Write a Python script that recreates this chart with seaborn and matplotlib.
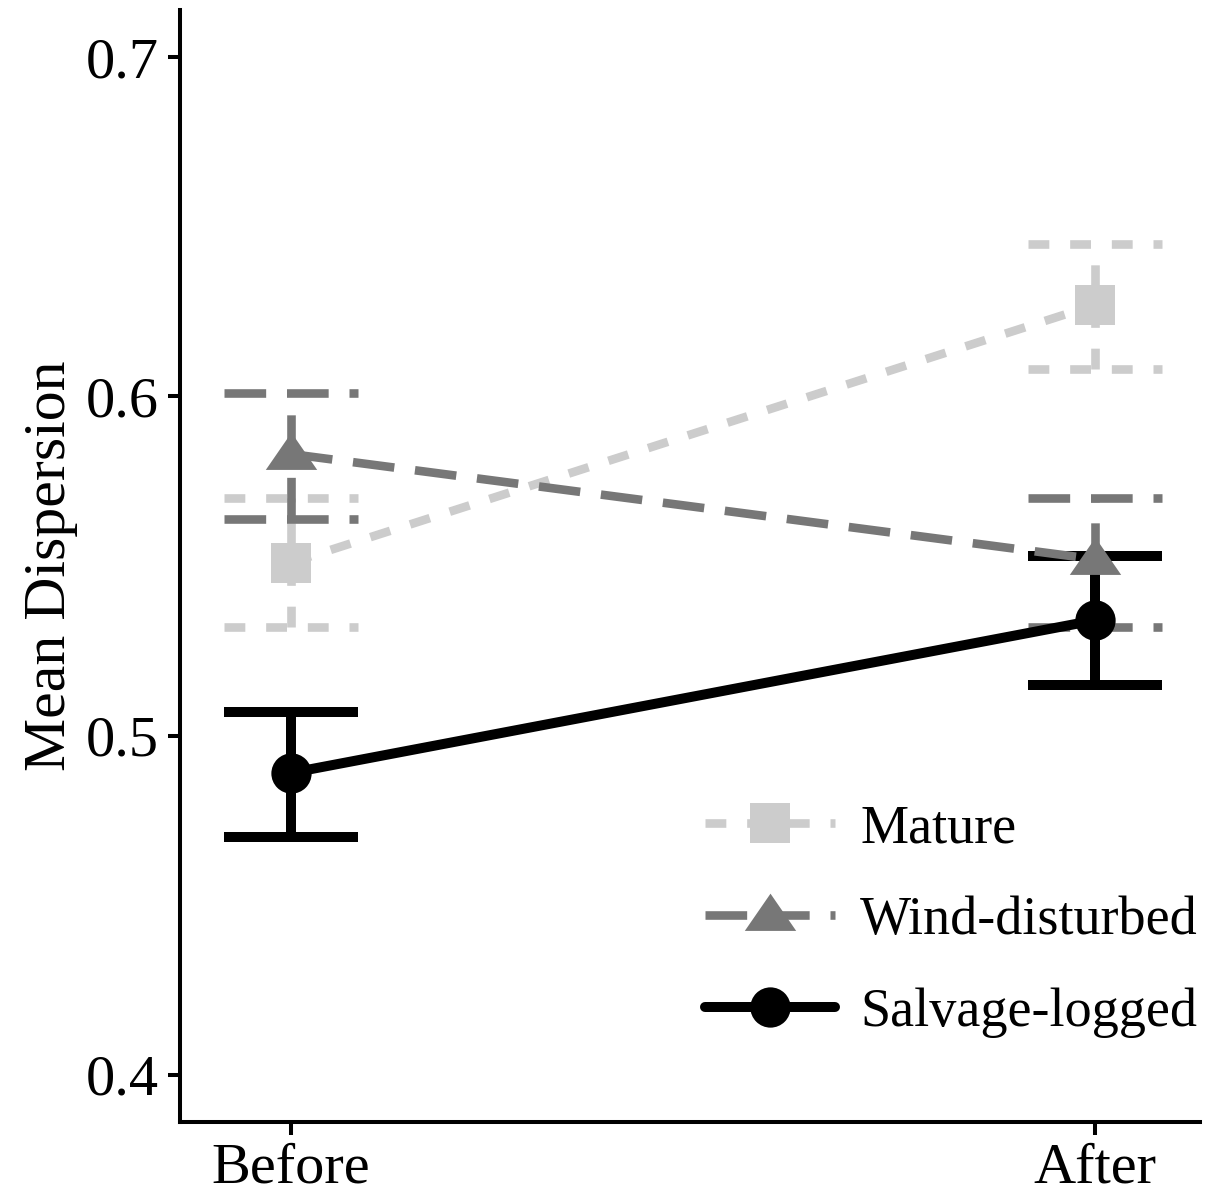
import matplotlib
matplotlib.use("Agg")
import matplotlib.pyplot as plt
from matplotlib.lines import Line2D
import numpy as np
import pandas as pd
import seaborn as sns

# Data: mean dispersion with error bar limits
periods = ["Before", "After"]
sites = ["Mature", "Wind-disturbed", "Salvage-logged"]
mature_mean = [0.551, 0.627]
mature_lo = [0.532, 0.608]
mature_hi = [0.570, 0.645]
wind_mean = [0.583, 0.552]
wind_lo = [0.564, 0.532]
wind_hi = [0.601, 0.570]
salvage_mean = [0.489, 0.534]
salvage_lo = [0.470, 0.515]
salvage_hi = [0.507, 0.553]
yticks = [0.4, 0.5, 0.6, 0.7]

sns.set_theme(style="ticks")
plt.rcParams["font.family"] = ["Liberation Serif", "DejaVu Serif"]
plt.rcParams["lines.scale_dashes"] = False
plt.rcParams["text.color"] = "black"
plt.rcParams["axes.labelcolor"] = "black"

df = pd.DataFrame({
    "x": list(range(len(periods))) * 3,
    "mean": mature_mean + wind_mean + salvage_mean,
    "lo": mature_lo + wind_lo + salvage_lo,
    "hi": mature_hi + wind_hi + salvage_hi,
    "site": np.repeat(sites, len(periods)),
})

colors = {"Mature": "#cccccc", "Wind-disturbed": "#777777", "Salvage-logged": "#000000"}
dashes = {"Mature": (15, 15), "Wind-disturbed": (30, 15), "Salvage-logged": ""}
tri = [(-1, -0.6), (1, -0.6), (0, 0.85)]
markers = {"Mature": "s", "Wind-disturbed": tri, "Salvage-logged": "o"}
msize = {"Mature": 29, "Wind-disturbed": 37, "Salvage-logged": 29}
lw = {"Mature": 6.2, "Wind-disturbed": 6.2, "Salvage-logged": 7.2}

fig = plt.figure(figsize=(12.28, 11.97), dpi=100)
ax = fig.add_axes([0.1466, 0.0627, 0.8304, 0.9289])

cap = 0.083
for site in sites:
    d = df[df["site"] == site]
    ls = (0, dashes[site]) if dashes[site] else "solid"
    ax.vlines(d["x"], d["lo"], d["hi"], colors=colors[site], linewidth=lw[site],
              linestyles=[ls], zorder=2)
    for col in ["lo", "hi"]:
        ax.hlines(d[col], d["x"] - cap, d["x"] + cap, colors=colors[site],
                  linewidth=lw[site], linestyles=[ls], zorder=2)

for site in sites:
    d = df[df["site"] == site]
    sns.lineplot(data=d, x="x", y="mean", color=colors[site], linewidth=lw[site],
                 marker=markers[site], markersize=msize[site], markeredgewidth=0,
                 markeredgecolor=colors[site], legend=False, ax=ax, zorder=3,
                 **({"dashes": dashes[site]} if dashes[site] else {}))

ax.set_xlim(-0.138, 1.13)
ax.set_ylim(0.3861, 0.7139)
ax.set_xticks(range(len(periods)))
ax.set_xticklabels(periods)
ax.set_yticks(yticks)
ax.set_yticklabels([f"{v:.1f}" for v in yticks])
ax.set_xlabel("")
ax.set_ylabel("Mean Dispersion", fontsize=43, labelpad=6, color="black")
ax.tick_params(axis="both", labelsize=42, width=2.9, length=9, color="black",
               labelcolor="black", pad=6)
sns.despine(ax=ax)
for s in ["left", "bottom"]:
    ax.spines[s].set_linewidth(2.9)
    ax.spines[s].set_color("black")

handles = [
    Line2D([], [], color=colors[s], linewidth=lw[s], marker=markers[s],
           markersize=msize[s], markeredgewidth=0,
           linestyle=(0, dashes[s]) if dashes[s] else "solid")
    for s in sites
]
leg = ax.legend(handles, sites, loc="center left", bbox_to_anchor=(0.515, 0.181),
                frameon=False, fontsize=39, handlelength=2.4, handletextpad=0.46,
                labelspacing=0.76, borderaxespad=0, borderpad=0,
                labelcolor="black")

fig.savefig("out.png", dpi=100)
